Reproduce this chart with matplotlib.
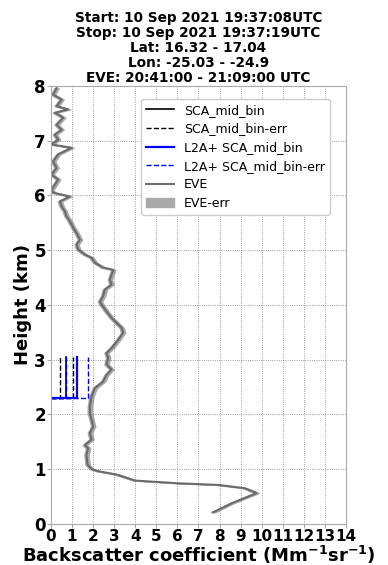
import numpy as np
import matplotlib.pyplot as plt

# EVE profile (backscatter, height)
eve_beta = [7.70, 8.6, 9.76, 9.2, 7.94, 6.04, 3.99, 3.12, 2.25, 1.93, 1.74, 1.69, 1.77, 1.61,
            1.93, 1.85, 2.01, 1.93, 1.85, 1.85, 1.93, 2.09, 2.48, 2.64, 2.88, 2.64, 2.72, 2.64,
            2.88, 3.19, 3.43, 3.36, 3.12, 2.88, 2.64, 2.41, 2.33, 2.48, 2.56, 2.88, 2.80, 2.88,
            2.96, 2.48, 2.09, 1.93, 1.61, 1.30, 1.22, 1.38, 1.22, 1.06, 0.90, 0.74, 0.66, 0.51,
            0.43, 0.90, 0.11, 0.03, 0.35, 0.03, 0.27, 0.11, 0.35, 0.98, 0.03, 0.35, 0.19, 0.51,
            0.27, 0.59, 0.19, 0.82, 0.27, 0.51, 0.11, 0.27]
eve_alt = [0.21, 0.38, 0.56, 0.65, 0.71, 0.74, 0.79, 0.90, 0.96, 1.00, 1.08, 1.26, 1.38, 1.44,
           1.54, 1.66, 1.78, 1.90, 2.02, 2.14, 2.33, 2.48, 2.60, 2.72, 2.82, 2.91, 3.03, 3.12,
           3.21, 3.36, 3.49, 3.58, 3.67, 3.76, 3.88, 4.00, 4.06, 4.16, 4.28, 4.37, 4.46, 4.55,
           4.64, 4.68, 4.77, 4.86, 4.92, 5.01, 5.10, 5.19, 5.31, 5.41, 5.53, 5.62, 5.71, 5.80,
           5.89, 5.98, 6.05, 6.10, 6.29, 6.38, 6.50, 6.62, 6.75, 6.87, 6.93, 7.02, 7.11, 7.20,
           7.29, 7.42, 7.51, 7.57, 7.63, 7.75, 7.84, 7.96]
eve_err = 0.1

# Aeolus SCA mid bin (one bin)
bin_bottom = 2.29
bin_top = 3.05
sca_val = 0.74
sca_err = 0.29
l2a_val = 1.22
l2a_err = 0.52

title = ("Start: 10 Sep 2021 19:37:08UTC\nStop: 10 Sep 2021 19:37:19UTC\n"
         "Lat: 16.32 - 17.04\nLon: -25.03 - -24.9\nEVE: 20:41:00 - 21:09:00 UTC")


def bin_line(v):
    return [0, v, v], [bin_bottom, bin_bottom, bin_top]


fig = plt.figure(figsize=(3.88, 5.65), dpi=100)
ax = fig.add_axes([0.131, 0.073, 0.761, 0.775])

x, y = bin_line(sca_val)
ax.plot(x, y, color="black", lw=1.2, label="SCA_mid_bin")
x, y = bin_line(sca_val - sca_err)
ax.plot(x, y, color="black", lw=1, ls="--", label="SCA_mid_bin-err")
x, y = bin_line(sca_val + sca_err)
ax.plot(x, y, color="black", lw=1, ls="--")
x, y = bin_line(l2a_val)
ax.plot(x, y, color="blue", lw=1.6, label="L2A+ SCA_mid_bin")
x, y = bin_line(l2a_val - l2a_err)
ax.plot(x, y, color="blue", lw=1, ls="--", label="L2A+ SCA_mid_bin-err")
x, y = bin_line(l2a_val + l2a_err)
ax.plot(x, y, color="blue", lw=1, ls="--")

eb = np.array(eve_beta)
ea = np.array(eve_alt)
ax.plot(eb, ea, color="dimgray", lw=1.4, label="EVE")
ax.fill_betweenx(ea, eb - eve_err, eb + eve_err, color="darkgray", label="EVE-err")

ax.set_xlim(0, 14)
ax.set_ylim(0, 8)
ax.set_xticks(range(0, 15))
ax.set_yticks(range(0, 9))
ax.grid(True, ls=":", color="gray", lw=0.6)
for s in ax.spines.values():
    s.set_color("darkgray")
ax.tick_params(length=3, color="darkgray", pad=0.5)
for lab in ax.get_xticklabels():
    lab.set_fontsize(11)
    lab.set_fontweight("bold")
for lab in ax.get_yticklabels():
    lab.set_fontsize(12)
    lab.set_fontweight("bold")

ax.set_xlabel(r"Backscatter coefficient (Mm$^{\mathbf{-1}}$sr$^{\mathbf{-1}}$)",
              fontsize=13, fontweight="bold", labelpad=0)
ax.set_ylabel("Height (km)", fontsize=13, fontweight="bold", labelpad=2)
ax.set_title(title, fontsize=9.8, fontweight="bold", pad=3, linespacing=1.08)

ax.legend(loc="upper right", bbox_to_anchor=(0.965, 0.985), fontsize=9, framealpha=1,
          handlelength=2.2, borderpad=0.4, labelspacing=0.45)

plt.savefig("out.png")
